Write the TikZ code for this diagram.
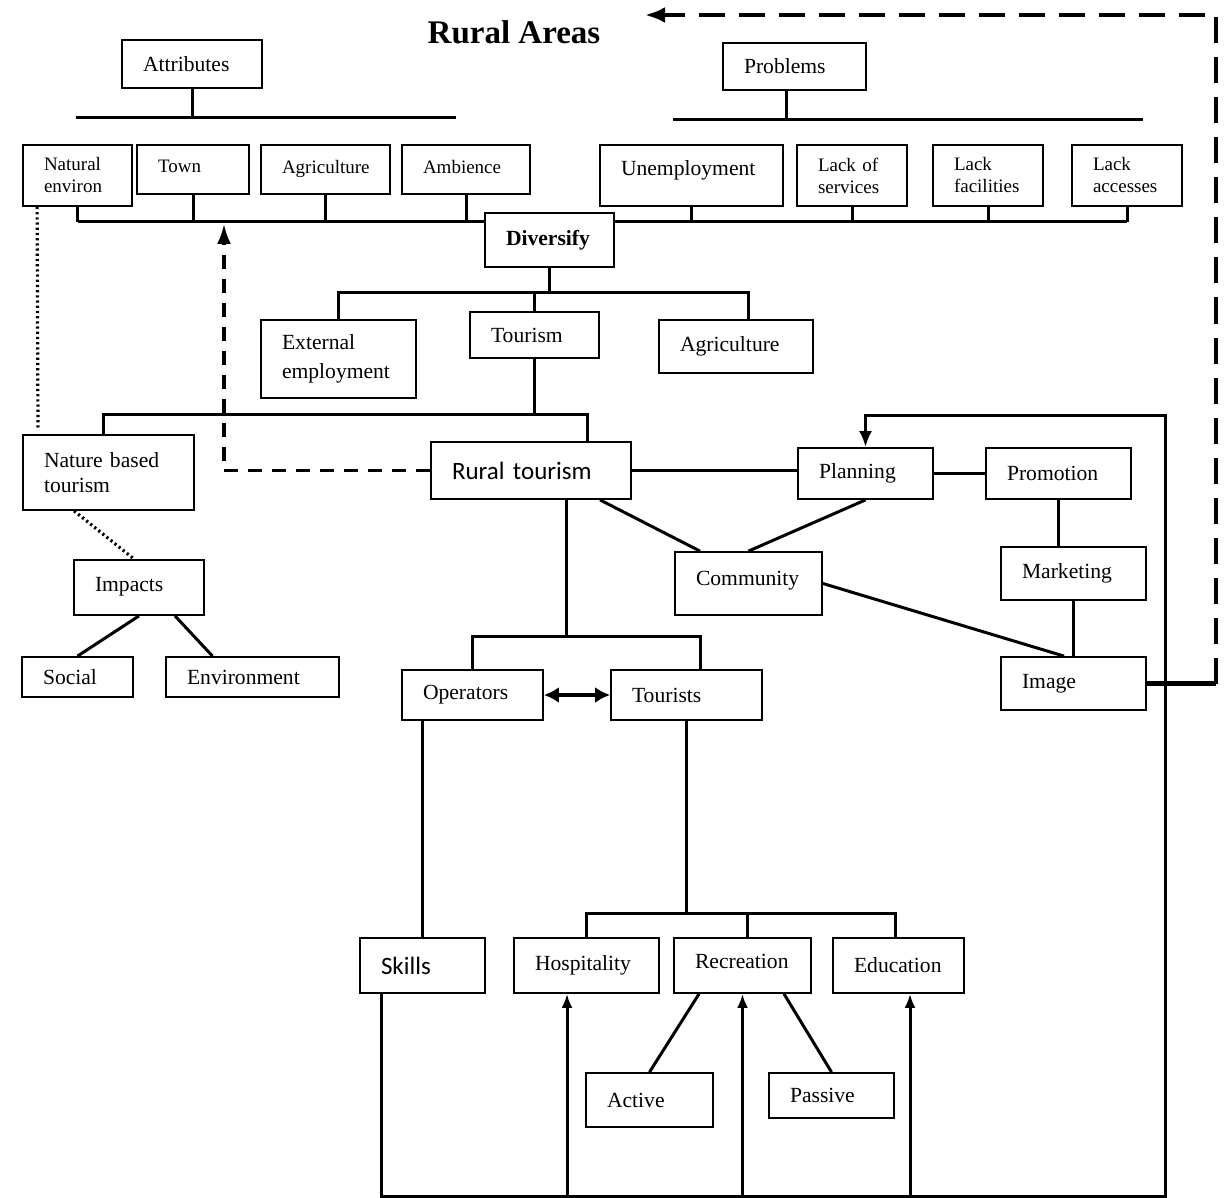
\documentclass[tikz,border=0pt]{standalone}
\usepackage{fontspec}
\setmainfont{Liberation Serif}
\newfontfamily\carl{Carlito}
\usetikzlibrary{arrows.meta,backgrounds}
\newcommand\txtnorm{\fontsize{10.8}{14}\selectfont}
\newcommand\txtsmall{\fontsize{9.5}{11}\selectfont}
\begin{document}
\begin{tikzpicture}[x=0.5pt,y=-0.5pt,
  bx/.style={draw, line width=0.9pt, fill=white, align=left, inner xsep=10.5pt, inner ysep=0pt, font=\txtnorm},
  sm/.style={font=\txtsmall},
  sans/.style={font=\carl\fontsize{12.5}{14}\selectfont},
  ln/.style={line width=1.5pt},
  dotln/.style={line width=1.6pt, dash pattern=on 1.1pt off 1.5pt},
  dashln/.style={line width=1.6pt, dash pattern=on 7pt off 5pt},
  bigdash/.style={line width=2pt, dash pattern=on 13pt off 7pt},
]
\useasboundingbox (0,0) rectangle (1226,1198);

% title
\node[font=\bfseries\fontsize{16.5}{18}\selectfont] (title) at (514,32) {Rural Areas};

% attributes and problems
\node[bx, text width=49pt, minimum height=24pt] (attr) at (192,64) {Attributes};
\node[bx, text width=50.5pt, minimum height=23.5pt] (prob) at (794.5,66.5) {Problems};

\node[bx, sm, text width=33.5pt, minimum height=30.5pt] (natenv) at (77.5,175.5) {Natural\\environ};
\node[bx, sm, text width=35pt, minimum height=24.5pt, text depth=3pt] (town) at (193,169.5) {Town};
\node[bx, sm, text width=43.5pt, minimum height=24.5pt, text depth=3pt] (agri) at (325.5,169.5) {Agriculture};
\node[bx, sm, text width=43pt, minimum height=24.5pt, text depth=3pt] (amb) at (466,169.5) {Ambience};
\node[bx, text width=70.5pt, minimum height=30.5pt, text depth=7pt] (unemp) at (691.5,175.5) {Unemployment};
\node[bx, sm, text width=34pt, minimum height=30.5pt] (lserv) at (852,175.5) {Lack of\\services};
\node[bx, sm, text width=34pt, minimum height=30.5pt] (lfac) at (988,175.5) {Lack\\facilities};
\node[bx, sm, text width=34pt, minimum height=30.5pt] (lacc) at (1127,175.5) {Lack\\accesses};

% diversification
\node[bx, font=\txtnorm\bfseries, text width=43.5pt, minimum height=27pt] (divers) at (549.5,240) {Diversify};
\node[bx, text width=56.5pt, minimum height=39pt, font=\fontsize{10.8}{14.5}\selectfont] (extemp) at (338.5,359) {External\\employment};
\node[bx, text width=43.5pt, minimum height=23pt] (tourism) at (534.5,335) {Tourism};
\node[bx, text width=56pt, minimum height=26.5pt] (agri2) at (736,346.5) {Agriculture};

% tourism branch
\node[bx, text width=64.5pt, minimum height=37.5pt, font=\fontsize{10.8}{12.5}\selectfont] (nbt) at (108.5,472.5) {Nature based\\tourism};
\node[bx, sans, text width=79pt, minimum height=28.5pt] (rural) at (531,470.5) {Rural tourism};
\node[bx, text width=46.5pt, minimum height=25.5pt] (planning) at (865.5,473.5) {Planning};
\node[bx, text width=51.5pt, minimum height=25.5pt] (promo) at (1058.5,473.5) {Promotion};
\node[bx, text width=52.5pt, minimum height=31.5pt, text depth=5pt] (comm) at (748.5,583.5) {Community};
\node[bx, text width=51.5pt, minimum height=26.5pt] (mkt) at (1073.5,573.5) {Marketing};
\node[bx, text width=51.5pt, minimum height=26.5pt] (image) at (1073.5,683.5) {Image};

% impacts
\node[bx, text width=44pt, minimum height=27.5pt, text depth=3.5pt] (impacts) at (139,587.5) {Impacts};
\node[bx, text width=34.5pt, minimum height=20pt] (social) at (77.5,677) {Social};
\node[bx, text width=65.5pt, minimum height=20pt] (env) at (252.5,677) {Environment};

% operators and tourists
\node[bx, text width=49.5pt, minimum height=25pt] (oper) at (472.5,695) {Operators};
\node[bx, text width=54.5pt, minimum height=25pt] (tourists) at (686.5,695) {Tourists};

\node[bx, sans, text width=41.5pt, minimum height=27.5pt] (skills) at (422.5,965.5) {Skills};
\node[bx, text width=51.5pt, minimum height=27.5pt] (hosp) at (586.5,965.5) {Hospitality};
\node[bx, text width=47.5pt, minimum height=27.5pt, text depth=4.5pt] (recr) at (742.5,965.5) {Recreation};
\node[bx, text width=44.5pt, minimum height=27.5pt] (edu) at (898.5,965.5) {Education};
\node[bx, text width=42.5pt, minimum height=27pt] (active) at (649.5,1100) {Active};
\node[bx, text width=41.5pt, minimum height=22.5pt] (passive) at (831.5,1095.5) {Passive};

% junction points of the connector bars
\coordinate (ab-l) at (76,118);
\coordinate (ab-r) at (456,118);
\coordinate (pb-l) at (673,120);
\coordinate (pb-r) at (1143,120);
\coordinate (pb-j) at (786,120);
\coordinate (mb) at (0,222);
\coordinate (db-j) at (549.5,293);
\coordinate (db-r) at (748,293);
\coordinate (tb-l) at (103,414);
\coordinate (tb-r) at (587,414);
\coordinate (dtip) at (224,224);
\coordinate (dt-b) at (38,430);
\coordinate (fr) at (1216,683.5);
\coordinate (rc) at (1216,15);
\coordinate (ttip) at (645,15);
\coordinate (ob-l) at (472.5,636);
\coordinate (ob-r) at (700,636);
\coordinate (hb-r) at (895,913);
\coordinate (hb-m) at (747,913);
\coordinate (bb-r) at (1165,1196);
\coordinate (fb-t) at (1165,415);
\coordinate (ua1) at (567,1196);
\coordinate (ua3) at (910,1196);

\begin{scope}[on background layer]
  % attributes and problems headers
  \draw[ln] (ab-l) -- (ab-r);
  \draw[ln] (attr.south) -- (attr.south |- ab-l);
  \draw[ln] (pb-l) -- (pb-r);
  \draw[ln] (pb-j |- prob.south) -- (pb-j);
  % bar joining attributes and problems to Diversify
  \draw[ln] (natenv.south |- mb) -- (lacc.south |- mb);
  \foreach \n in {natenv,town,agri,amb,unemp,lserv,lfac,lacc}
    \draw[ln] (\n.south) -- (\n.south |- mb);
  % Diversify branches
  \draw[ln] (divers.south) -- (db-j);
  \draw[ln] (extemp.north) |- (db-r) -- (db-r |- agri2.north);
  \draw[ln] (tourism.north) -- (tourism.north |- db-j);
  % tourism branches
  \draw[ln] (tourism.south) -- (tourism.south |- tb-l);
  \draw[ln] (tb-l |- nbt.north) -- (tb-l) -- (tb-r) -- (tb-r |- rural.north);
  % feedback from rural tourism to the attributes
  \draw[dashln, -{Latex[length=10pt,width=7pt]}] (rural.west) -| (dtip);
  % nature based tourism links
  \draw[dotln] ([xshift=7.5pt]natenv.south west) -- (dt-b);
  \draw[dotln] ([xshift=26pt]nbt.south west) -- ([xshift=30.5pt]impacts.north west);
  \draw[ln] (impacts.south) -- (social.north);
  \draw[ln] ([xshift=18pt]impacts.south) -- ([xshift=-20pt]env.north);
  % planning, promotion, community, image
  \draw[ln] (rural.east) -- (rural.east -| planning.west);
  \draw[ln] (planning.east) -- (promo.west);
  \draw[ln] ([xshift=34.5pt]rural.south) -- ([xshift=-24.25pt]comm.north);
  \draw[ln] (planning.south) -- (comm.north);
  \draw[ln] (comm.east) -- ([xshift=-4.75pt]image.north);
  \draw[ln] (promo.south) -- (promo.south |- mkt.north);
  \draw[ln] (mkt.south) -- (image.north);
  \draw[line width=2.2pt] (image.east) -- (fr);
  \draw[bigdash, -{Latex[length=10pt,width=8pt]}] (fr) -- (rc) -- (ttip);
  % operators and tourists
  \draw[ln] ([xshift=17.5pt]rural.south) -- ([xshift=17.5pt]rural.south |- ob-l);
  \draw[ln] (oper.north) -- (ob-l) -- (ob-r) -- (ob-r |- tourists.north);
  \draw[line width=2pt, {Latex[length=7.5pt,width=8pt]}-{Latex[length=7.5pt,width=8pt]}] (oper.east) -- (tourists.west);
  \draw[ln] (skills.north) -- (skills.north |- oper.south);
  \draw[ln] (tourists.south) -- (tourists.south |- hb-r);
  \draw[ln] (hosp.north) |- (hb-r) -- (hb-r |- edu.north);
  \draw[ln] (hb-m) -- (hb-m |- recr.north);
  \draw[ln] ([xshift=-21.75pt]recr.south) -- (active.north);
  \draw[ln] ([xshift=20.75pt]recr.south) -- (passive.north);
  % bottom loop back to planning
  \draw[ln, -{Latex[length=8pt,width=6.5pt]}] ([xshift=-20.75pt]skills.south) |- (bb-r) -- (fb-t) -| (planning.north);
  \draw[ln, -{Latex[length=7pt,width=5.5pt]}] (ua1) -- (ua1 |- hosp.south);
  \draw[ln, -{Latex[length=7pt,width=5.5pt]}] (recr.south |- bb-r) -- (recr.south);
  \draw[ln, -{Latex[length=7pt,width=5.5pt]}] (ua3) -- (ua3 |- edu.south);
\end{scope}
\end{tikzpicture}
\end{document}
